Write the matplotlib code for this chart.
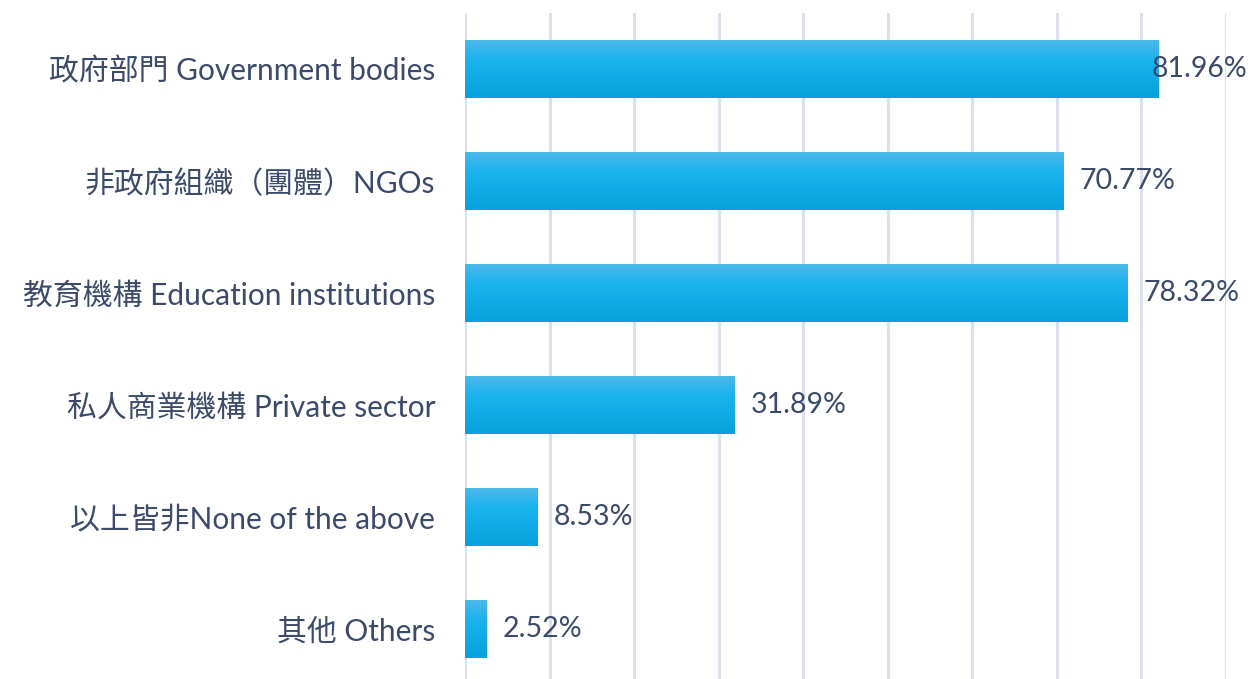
import matplotlib
matplotlib.use("Agg")
import matplotlib.pyplot as plt
import numpy as np
from matplotlib.colors import LinearSegmentedColormap

plt.rcParams['font.family'] = ['Lato', 'Noto Sans CJK TC', 'DejaVu Sans']

categories = [
    "政府部門 Government bodies",
    "非政府組織（團體）NGOs",
    "教育機構 Education institutions",
    "私人商業機構 Private sector",
    "以上皆非None of the above",
    "其他 Others",
]
values = [81.96, 70.77, 78.32, 31.89, 8.53, 2.52]
value_labels = ["81.96%", "70.77%", "78.32%", "31.89%", "8.53%", "2.52%"]

TEXT_COLOR = "#3b4a6b"
GRID_COLOR = "#dcdfec"
BAR_HEIGHT = 0.51

grad = LinearSegmentedColormap.from_list(
    "bar", ["#4db9ea", "#1bb3ee", "#10abe6", "#07a0da"])

fig = plt.figure(figsize=(12.53, 6.79), dpi=100)
ax = fig.add_axes([465 / 1253, -6 / 679, (1226 - 465) / 1253, (679 + 6 - 13) / 679])

y = np.arange(len(categories))
bars = ax.barh(y, values, height=BAR_HEIGHT, color="#14b0ec", zorder=2)

# vertical gradient on each bar
g = np.linspace(0, 1, 256).reshape(-1, 1)
for b in bars:
    x0, y0 = b.get_x(), b.get_y()
    ax.imshow(g, cmap=grad, aspect="auto", zorder=3,
              extent=(x0, x0 + b.get_width(), y0 + b.get_height(), y0))

for yi, v, lab in zip(y, values, value_labels):
    off = 16 if v < 80 else -6  # last one pulled back so it stays inside the chart
    ax.annotate(lab, xy=(v, yi), xytext=(off * 0.72, 0), textcoords="offset points",
                ha="left", va="center", fontsize=20.5, color=TEXT_COLOR, zorder=4)

ax.set_xlim(0, 90)
ax.set_ylim(len(categories) - 0.5, -0.5)
ax.set_xticks(np.arange(0, 91, 10))
ax.xaxis.grid(True, color=GRID_COLOR, linewidth=2.2, zorder=0)
ax.set_axisbelow(True)
ax.tick_params(axis="x", length=0, labelbottom=False)
ax.tick_params(axis="y", length=0, pad=21.5)
ax.set_yticks(y)
ax.set_yticklabels(categories, fontsize=21.5, color=TEXT_COLOR)
for s in ax.spines.values():
    s.set_visible(False)

fig.savefig("out.png", dpi=100)
